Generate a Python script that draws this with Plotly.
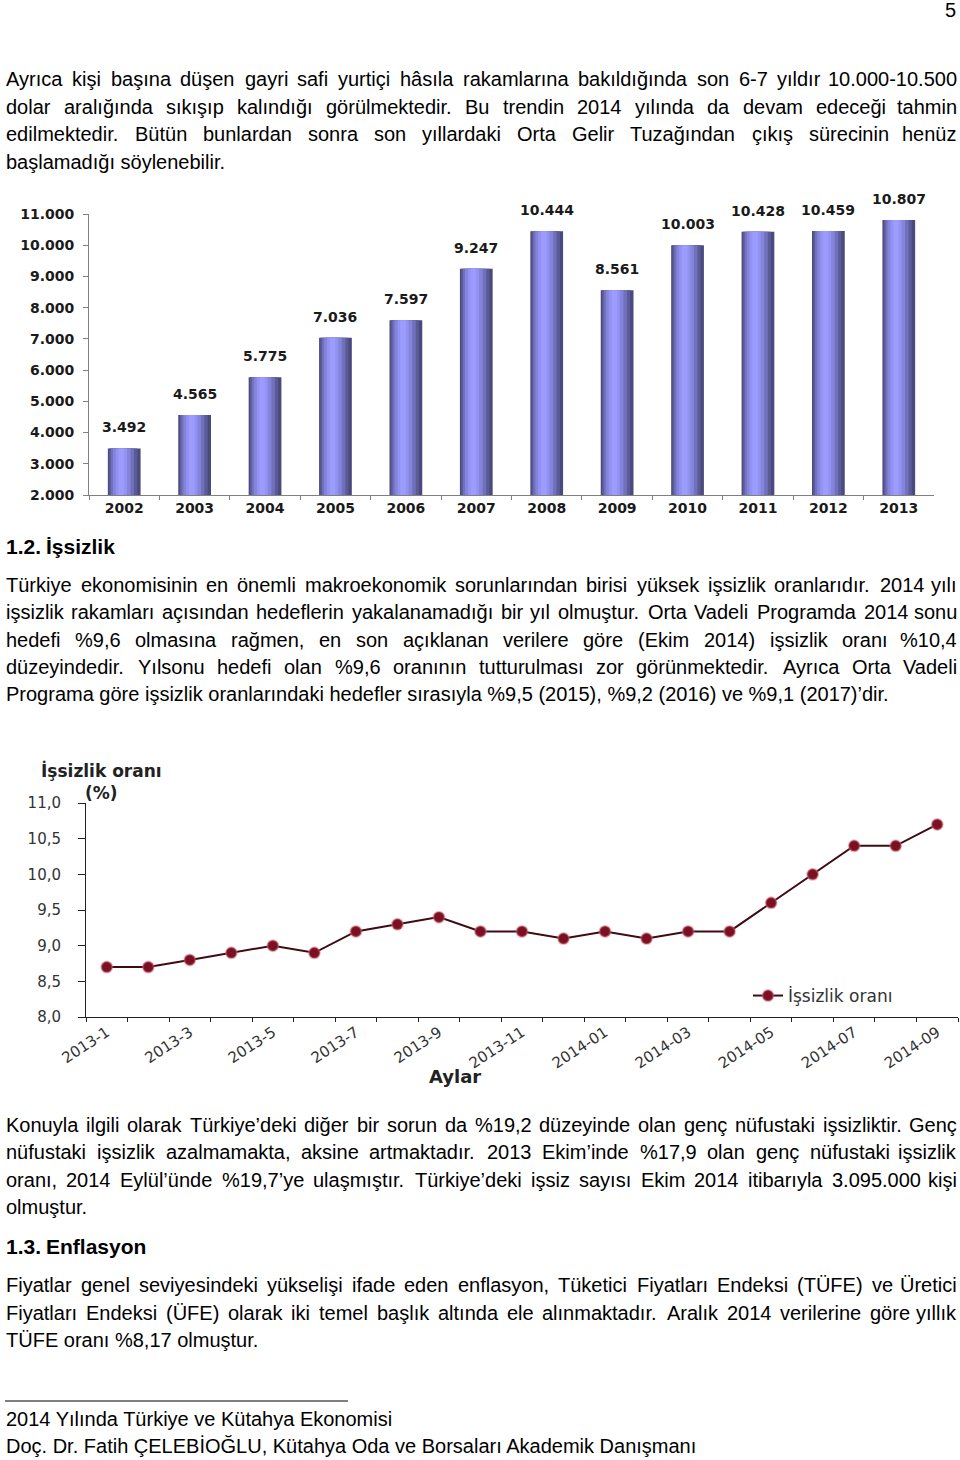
import plotly.graph_objects as go

# ---------------- data ----------------
years = ["2002", "2003", "2004", "2005", "2006", "2007", "2008", "2009", "2010", "2011", "2012", "2013"]
gdp_per_capita = [3492, 4565, 5775, 7036, 7597, 9247, 10444, 8561, 10003, 10428, 10459, 10807]

months = ["2013-1", "2013-2", "2013-3", "2013-4", "2013-5", "2013-6", "2013-7", "2013-8",
          "2013-9", "2013-10", "2013-11", "2013-12", "2014-01", "2014-02", "2014-03",
          "2014-04", "2014-05", "2014-06", "2014-07", "2014-08", "2014-09"]
unemployment = [8.7, 8.7, 8.8, 8.9, 9.0, 8.9, 9.2, 9.3, 9.4, 9.2, 9.2, 9.1, 9.2, 9.1,
                9.2, 9.2, 9.6, 10.0, 10.4, 10.4, 10.7]
month_labels = [m if i % 2 == 0 else "" for i, m in enumerate(months)]

# ---------------- page text ----------------
para1 = [
    ("Ayrıca kişi başına düşen gayri safi yurtiçi hâsıla rakamlarına bakıldığında son 6-7 yıldır 10.000-10.500", True),
    ("dolar aralığında sıkışıp kalındığı görülmektedir. Bu trendin 2014 yılında da devam edeceği tahmin", True),
    ("edilmektedir. Bütün bunlardan sonra son yıllardaki Orta Gelir Tuzağından çıkış sürecinin henüz", True),
    ("başlamadığı söylenebilir.", False),
]
para2 = [
    ("Türkiye ekonomisinin en önemli makroekonomik sorunlarından birisi yüksek işsizlik oranlarıdır. 2014 yılı", True),
    ("işsizlik rakamları açısından hedeflerin yakalanamadığı bir yıl olmuştur. Orta Vadeli Programda 2014 sonu", True),
    ("hedefi %9,6 olmasına rağmen, en son açıklanan verilere göre (Ekim 2014) işsizlik oranı %10,4", True),
    ("düzeyindedir. Yılsonu hedefi olan %9,6 oranının tutturulması zor görünmektedir. Ayrıca Orta Vadeli", True),
    ("Programa göre işsizlik oranlarındaki hedefler sırasıyla %9,5 (2015), %9,2 (2016) ve %9,1 (2017)’dir.", False),
]
para3 = [
    ("Konuyla ilgili olarak Türkiye’deki diğer bir sorun da %19,2 düzeyinde olan genç nüfustaki işsizliktir. Genç", True),
    ("nüfustaki işsizlik azalmamakta, aksine artmaktadır. 2013 Ekim’inde %17,9 olan genç nüfustaki işsizlik", True),
    ("oranı, 2014 Eylül’ünde %19,7’ye ulaşmıştır. Türkiye’deki işsiz sayısı Ekim 2014 itibarıyla 3.095.000 kişi", True),
    ("olmuştur.", False),
]
para4 = [
    ("Fiyatlar genel seviyesindeki yükselişi ifade eden enflasyon, Tüketici Fiyatları Endeksi (TÜFE) ve Üretici", True),
    ("Fiyatları Endeksi (ÜFE) olarak iki temel başlık altında ele alınmaktadır. Aralık 2014 verilerine göre yıllık", True),
    ("TÜFE oranı %8,17 olmuştur.", False),
]
footer = ["2014 Yılında Türkiye ve Kütahya Ekonomisi",
          "Doç. Dr. Fatih ÇELEBİOĞLU, Kütahya Oda ve Borsaları Akademik Danışmanı"]

W, H = 960, 1460
def px(x): return x / W
def py(y): return 1 - y / H

# Helvetica / Liberation Sans advance widths (per 1000 em)
HW = dict(zip("abcdefghijklmnopqrstuvwxyz",
              [556,556,500,556,556,278,556,556,222,222,500,222,833,556,556,556,556,333,500,278,556,500,722,500,500,500]))
HW.update(dict(zip("ABCDEFGHIJKLMNOPQRSTUVWXYZ",
              [667,667,722,722,667,611,778,722,278,500,667,556,833,722,778,667,778,722,667,611,722,667,944,667,667,611])))
HW.update({d: 556 for d in "0123456789"})
HW.update({" ": 278, ".": 278, ",": 278, "-": 333, "%": 889, "(": 333, ")": 333, "’": 222, "'": 191, ":": 278,
           "ı": 278, "ş": 500, "ğ": 556, "ç": 500, "ö": 556, "ü": 556, "â": 556,
           "İ": 278, "Ş": 667, "Ğ": 778, "Ç": 722, "Ö": 778, "Ü": 722})
def em(s): return sum(HW.get(c, 556) for c in s) / 1000.0

LEFT, RIGHT = 5, 958
all_lines = para1 + para2 + para3 + para4
size = 20.0
for text, just in all_lines:
    if just:
        words = text.split(" ")
        wem = sum(em(w) for w in words)
        size = min(size, (RIGHT - LEFT) / (wem + 0.2 * (len(words) - 1)))

BODY = "Liberation Sans, Arial, sans-serif"
annotations = []

def add_text(txt, x, y, anchor="left", fsize=None, bold=False, family=BODY, color="#000"):
    annotations.append(dict(text=txt, x=px(x), y=py(y), xref="paper", yref="paper",
                            xanchor=anchor, yanchor="middle", showarrow=False, borderpad=0,
                            font=dict(family=family, size=fsize or size, color=color,
                                      weight="bold" if bold else "normal")))

def add_paragraph(lines, y0, step):
    for i, (text, just) in enumerate(lines):
        y = y0 + i * step
        if not just:
            add_text(text, LEFT, y)
            continue
        words = text.split(" ")
        widths = [em(w) * size for w in words]
        gap = (RIGHT - LEFT - sum(widths)) / (len(words) - 1)
        x = LEFT
        for j, (w, ww) in enumerate(zip(words, widths)):
            if j == len(words) - 1:
                add_text(w, RIGHT, y, anchor="right")
            else:
                add_text(w, x, y)
            x += ww + gap

add_paragraph(para1, 79, 27.7)
add_paragraph(para2, 585, 27.3)
add_paragraph(para3, 1125, 27.3)
add_paragraph(para4, 1285, 27.5)

add_text("5", 957, 10, anchor="right")
add_text("1.2.", LEFT, 546, bold=True, fsize=21)
add_text("İşsizlik", 45, 546, bold=True, fsize=21)
add_text("1.3.", LEFT, 1246, bold=True, fsize=21)
add_text("Enflasyon", 45, 1246, bold=True, fsize=21)
add_text(footer[0], LEFT, 1419)
add_text(footer[1], LEFT, 1446)

# ---------------- figure ----------------
fig = go.Figure()

# bar chart (layered bars give the cylinder shading)
layers = [(0.465, -0.2325, "#4a4a7c"), (0.40, -0.215, "#5b5b99"), (0.33, -0.19, "#7070bc"),
          (0.25, -0.16, "#8484da"), (0.16, -0.12, "#9292f2"), (0.08, -0.08, "#9c9cff")]
for wdt, off, col in layers:
    fig.add_trace(go.Bar(x=years, y=gdp_per_capita, width=wdt, offset=off,
                         marker=dict(color=col, line=dict(width=0)), showlegend=False,
                         hoverinfo="skip", xaxis="x", yaxis="y"))

CHART = "DejaVu Sans, Verdana, sans-serif"
for i, v in enumerate(gdp_per_capita):
    annotations.append(dict(text=f"{v:,}".replace(",", "."), x=i, y=v, xref="x", yref="y",
                            yshift=21, showarrow=False, xanchor="center", yanchor="middle",
                            font=dict(family=CHART, size=14, color="#1a1a1a", weight="bold")))

# line chart
fig.add_trace(go.Scatter(x=months, y=unemployment, mode="lines+markers", name="İşsizlik oranı",
                         line=dict(color="#3e0b12", width=2),
                         marker=dict(color="#7a1022", size=11, line=dict(color="rgba(205,110,125,0.45)", width=2)),
                         xaxis="x2", yaxis="y2"))

add_text("İşsizlik oranı<br>(%)", 101, 781, anchor="center", fsize=17, bold=True, family=CHART, color="#222")
annotations[-1]["align"] = "center"
add_text("Aylar", 455, 1076, anchor="center", fsize=18, bold=True, family=CHART, color="#222")

fig.update_layout(
    width=W, height=H, margin=dict(l=0, r=0, t=0, b=0, pad=0, autoexpand=False),
    paper_bgcolor="white", plot_bgcolor="white",
    separators=",.", barmode="overlay",
    annotations=annotations,
    shapes=[dict(type="line", xref="paper", yref="paper", x0=px(5), x1=px(348),
                 y0=py(1401), y1=py(1401), line=dict(color="black", width=1))],
    xaxis=dict(domain=[px(89), px(934)], type="category", anchor="y", range=[-0.5, 11.5],
               showline=True, linecolor="#808080", ticks="outside", tickson="boundaries",
               ticklen=4, tickcolor="#808080", showgrid=False, tickangle=0, automargin=False,
               tickfont=dict(family=CHART, size=14, color="#1a1a1a", weight="bold")),
    yaxis=dict(domain=[py(495), py(214)], range=[2000, 11000], dtick=1000, tickformat=",.0f",
               anchor="x", showline=True, linecolor="#808080", ticks="outside", ticklen=5,
               tickcolor="#808080", showgrid=False, zeroline=False, ticklabelstandoff=6, automargin=False,
               tickfont=dict(family=CHART, size=14, color="#1a1a1a", weight="bold")),
    xaxis2=dict(domain=[px(86), px(958)], type="category", anchor="y2", range=[-0.5, 20.5],
                tickvals=months, ticktext=month_labels, tickangle=-33, automargin=False,
                showline=True, linecolor="#222", ticks="outside", tickson="boundaries",
                ticklen=4, tickcolor="#222", showgrid=False,
                tickfont=dict(family=CHART, size=15, color="#333")),
    yaxis2=dict(domain=[py(1017), py(803)], range=[8, 11], dtick=0.5, tickformat=".1f",
                anchor="x2", showline=True, linecolor="#222", ticks="outside", ticklen=7,
                tickcolor="#222", showgrid=False, zeroline=False, ticklabelstandoff=14, automargin=False,
                tickfont=dict(family=CHART, size=15, color="#333")),
    legend=dict(x=px(748), y=py(996), xanchor="left", yanchor="middle", bgcolor="rgba(0,0,0,0)",
                font=dict(family=CHART, size=17, color="#333")),
    showlegend=True,
)

fig.write_html("out.html")
